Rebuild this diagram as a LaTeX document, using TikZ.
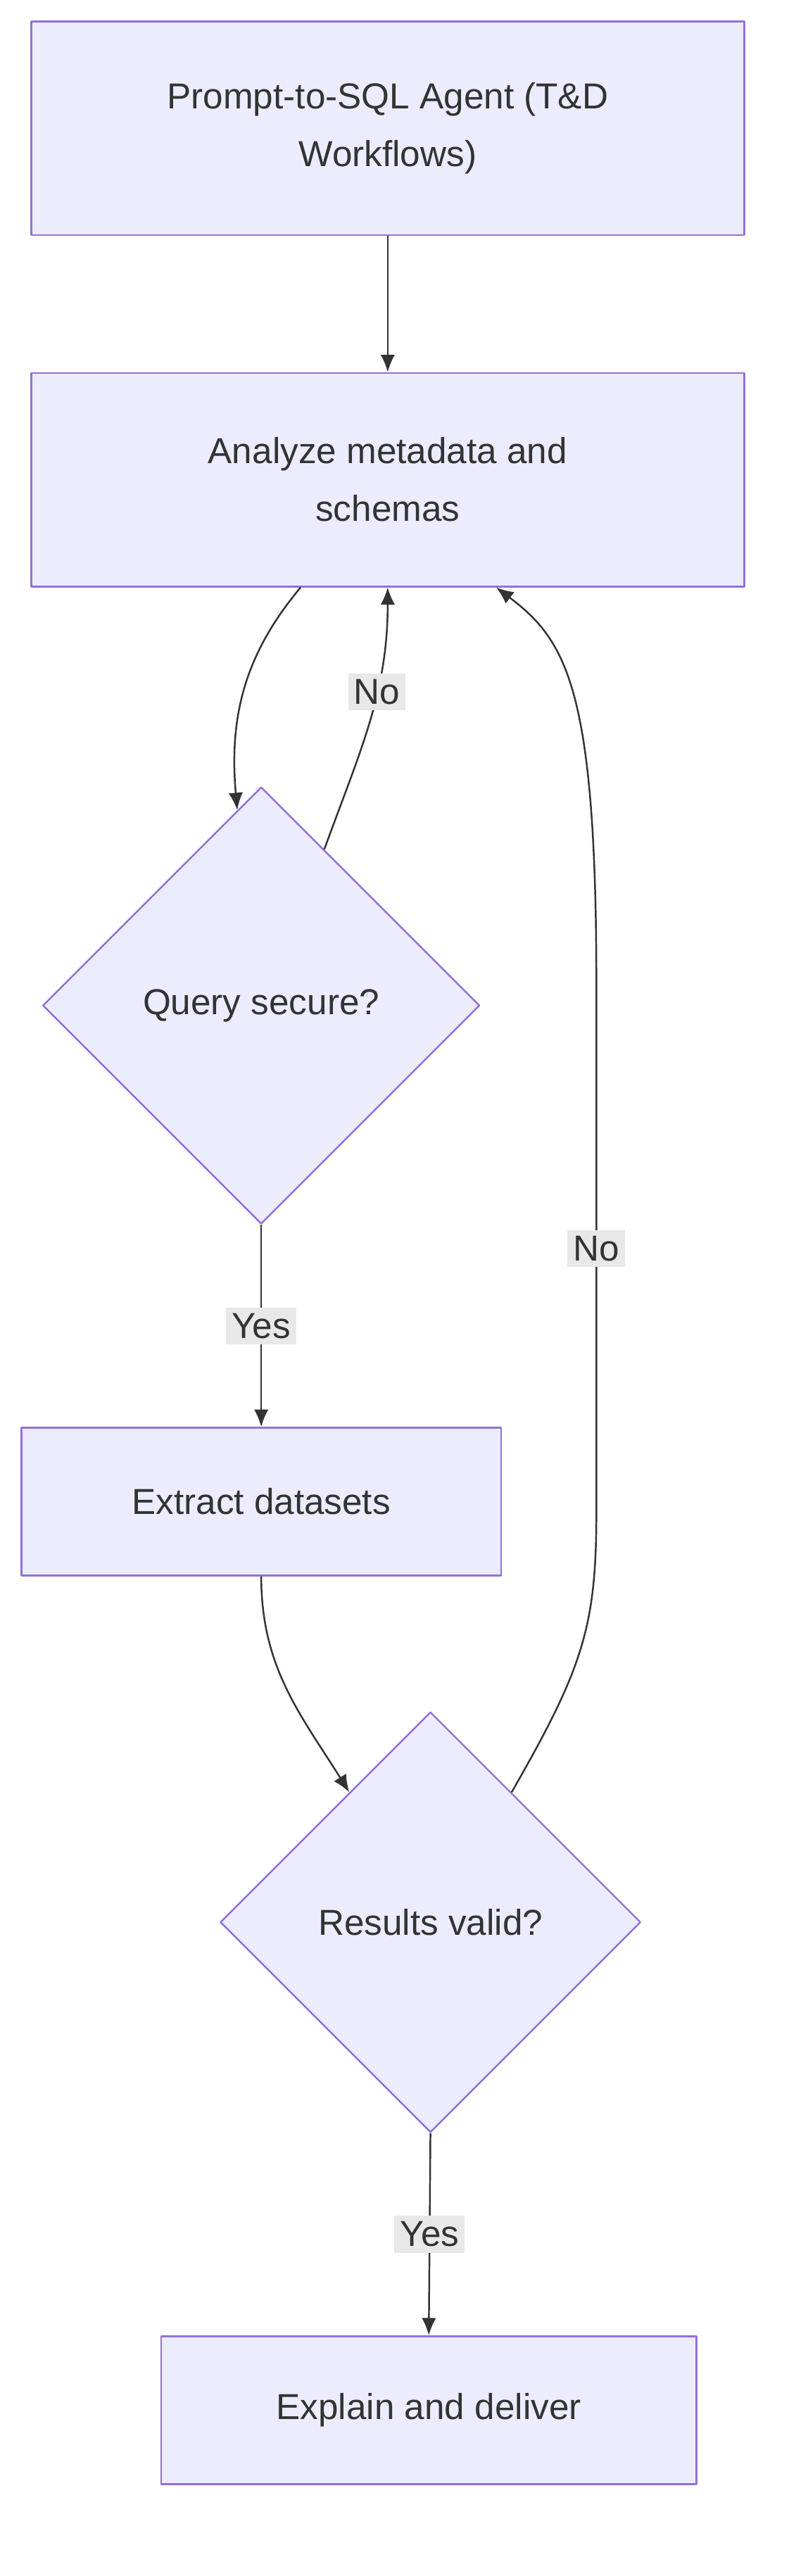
\documentclass[tikz,border=0pt]{standalone}
\usepackage{fontspec}
\setmainfont{Liberation Sans}
\usetikzlibrary{shapes.geometric,arrows.meta}
\definecolor{boxfill}{HTML}{ECECFF}
\definecolor{boxline}{HTML}{9370DB}
\definecolor{ink}{HTML}{333333}
\definecolor{lblfill}{HTML}{E8E8E8}

\begin{document}
\begin{tikzpicture}[
    x = 0.02cm, y = 0.02cm,
    line join=round,
    every node/.style = {font=\fontsize{12.5}{20}\selectfont, text=ink},
    box/.style = {draw=boxline, fill=boxfill, line width=0.6pt, align=center, inner sep=0pt},
    dia/.style = {diamond, aspect=1, draw=boxline, fill=boxfill, line width=0.6pt, inner sep=0pt},
    arr/.style = {draw=ink, line width=0.6pt, -{Latex[length=6pt,width=5pt]}},
    lbl/.style = {fill=lblfill, inner sep=2pt}
]
\useasboundingbox (0,0) rectangle (480,-1568);

\node[box, minimum width=8.68cm, minimum height=2.6cm] (agent) at (236,-78) {Prompt-to-SQL Agent (T\&D\\Workflows)};
\node[box, minimum width=8.68cm, minimum height=2.6cm] (analyze) at (236,-292) {Analyze metadata and\\schemas};
\node[dia, minimum width=5.32cm, minimum height=5.32cm] (secure) at (159,-612) {Query secure?};
\node[box, minimum width=5.84cm, minimum height=1.8cm] (extract) at (159,-914) {Extract datasets};
\node[dia, minimum width=5.12cm, minimum height=5.12cm] (valid) at (262,-1170) {Results valid?};
\node[box, minimum width=6.52cm, minimum height=1.8cm] (deliver) at (261,-1467) {Explain and deliver};

\draw[arr] (agent) -- (analyze);
\draw[arr] ([xshift=-1.06cm]analyze.south) to[out=-130, in=95] (secure.97);
\draw[arr] (secure.68) to[out=70, in=-90] node[lbl, pos=0.62] {No} (analyze.south);
\draw[arr] (secure.south) -- node[lbl] {Yes} (extract.north);
\draw[arr] (extract.south) to[out=-90, in=122] (valid.122);
\draw[arr] (valid.58) .. controls (355,-1015) and (363,-990) .. (363,-920)
    -- node[lbl] {No} (363,-600)
    .. controls (363,-420) and (345,-390) .. ([xshift=1.32cm]analyze.south);
\draw[arr] (valid.south) -- node[lbl] {Yes} (deliver.north);
\end{tikzpicture}
\end{document}
